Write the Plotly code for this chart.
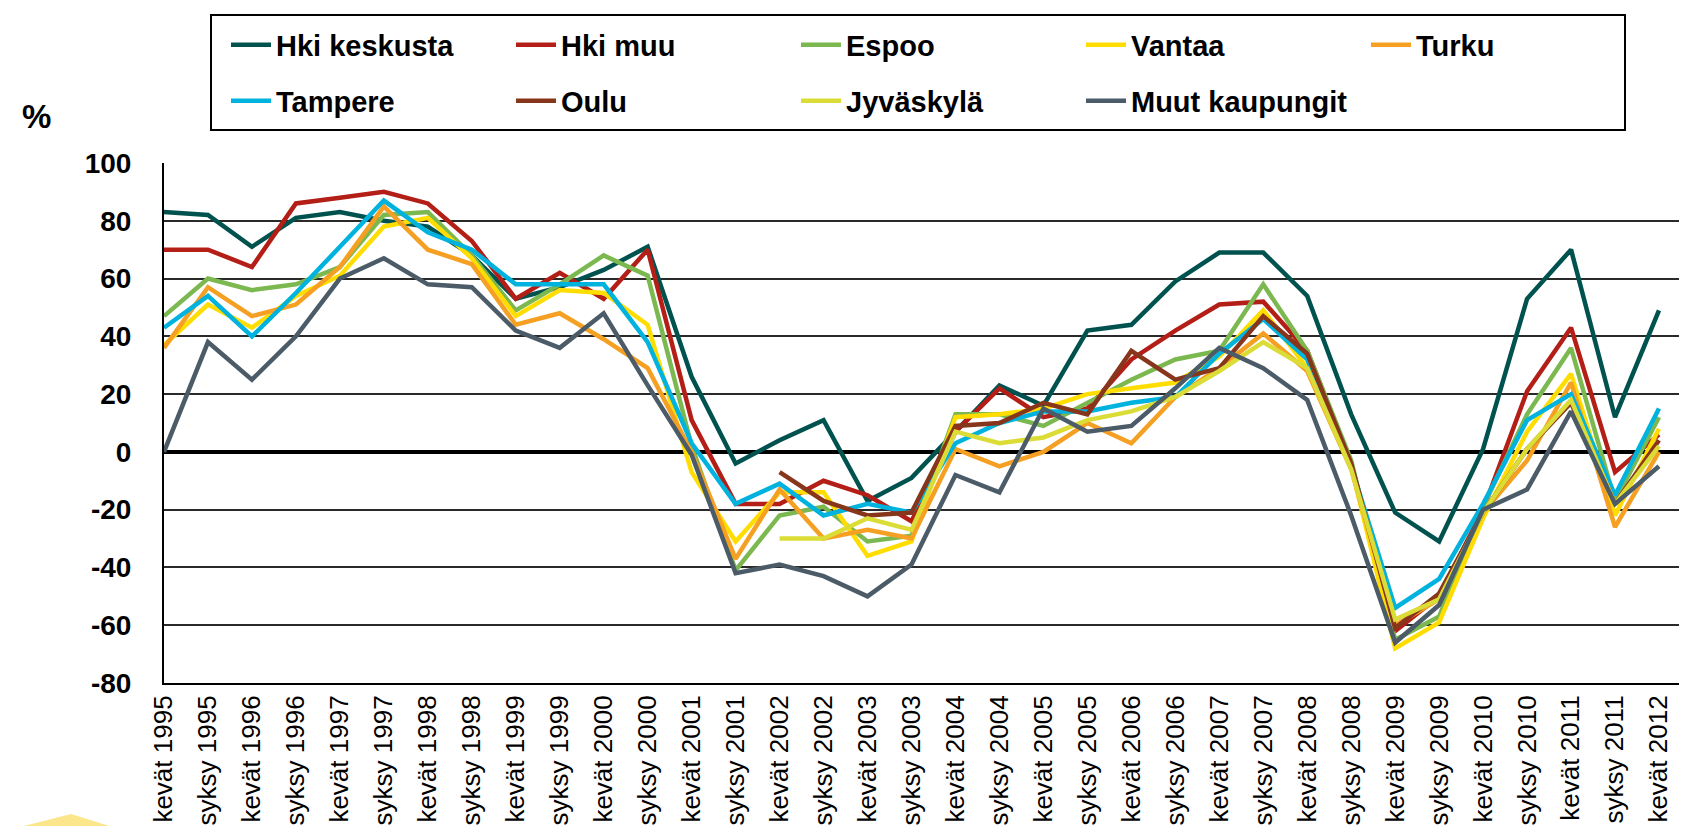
import plotly.graph_objects as go

categories = []
for yr in range(1995, 2013):
    categories.append(f"kevät {yr}")
    if yr < 2012:
        categories.append(f"syksy {yr}")

hki_keskusta = [83, 82, 71, 81, 83, 80, 78, 68, 53, 57, 63, 71, 26, -4, 4, 11, -17, -9, 7, 23, 16, 42, 44, 59, 69, 69, 54, 13, -21, -31, 1, 53, 70, 12, 49]
hki_muu = [70, 70, 64, 86, 88, 90, 86, 73, 53, 62, 53, 70, 11, -18, -18, -10, -15, -24, 7, 22, 12, 15, 32, 42, 51, 52, 35, -4, -62, -50, -20, 21, 43, -7, 6]
espoo = [47, 60, 56, 58, 64, 82, 83, 68, 49, 58, 68, 61, 2, -41, -22, -19, -31, -29, 13, 13, 9, 17, 25, 32, 35, 58, 35, -3, -65, -57, -19, 13, 36, -17, 12]
vantaa = [37, 51, 43, 54, 61, 78, 81, 67, 47, 56, 55, 44, -7, -31, -14, -14, -36, -31, 12, 13, 15, 20, 22, 24, 33, 49, 29, -5, -68, -59, -23, 7, 27, -22, 8]
turku = [36, 57, 47, 51, 64, 85, 70, 65, 44, 48, 39, 29, 0, -37, -13, -30, -27, -30, 1, -5, 0, 10, 3, 19, 29, 41, 28, -6, -60, -51, -21, -3, 24, -26, 0]
tampere = [43, 54, 40, 55, 71, 87, 76, 70, 58, 58, 58, 38, 3, -18, -11, -22, -18, -21, 3, 10, 14, 14, 17, 19, 34, 46, 32, -5, -54, -44, -18, 11, 20, -15, 15]
oulu = [None] * 14 + [-7, -17, -22, -21, 9, 10, 17, 13, 35, 25, 29, 47, 34, -4, -61, -49, -21, 1, 17, -18, 4]
jyvaskyla = [None] * 14 + [-30, -30, -23, -27, 7, 3, 5, 11, 14, 19, 28, 38, 29, -6, -58, -51, -21, 1, 18, -18, 2]
muut = [0, 38, 25, 40, 60, 67, 58, 57, 42, 36, 48, 23, -1, -42, -39, -43, -50, -39, -8, -14, 15, 7, 9, 22, 36, 29, 18, -22, -66, -53, -20, -13, 14, -18, -5]

series_names = ["Hki keskusta", "Hki muu", "Espoo", "Vantaa", "Turku",
                "Tampere", "Oulu", "Jyväskylä", "Muut kaupungit"]
series_values = [hki_keskusta, hki_muu, espoo, vantaa, turku,
                 tampere, oulu, jyvaskyla, muut]
series_colors = ["#00524F", "#B31E17", "#7CB850", "#FFDD00", "#F5A023",
                 "#00B2DE", "#87351B", "#DCDC36", "#4B5B67"]
legend_ids = ["legend"] * 5 + ["legend2"] * 4

y_tickvals = [-80, -60, -40, -20, 0, 20, 40, 60, 80, 100]
y_ticktext = ["-80", "-60", "-40", "-20", "0", "20", "40", "60", "80", "100"]

W, H = 1687, 826
L, R, T, B = 156, 0, 155, 151
pw = W - L - R
ph = H - T - B
step = 43.97


def px_x(px):
    return (px - L) / pw


def px_y(py):
    return (H - B - py) / ph


FONT = "Arial, Liberation Sans, sans-serif"

fig = go.Figure()
for name, vals, col, lg in zip(series_names, series_values, series_colors, legend_ids):
    fig.add_trace(go.Scatter(
        x=categories, y=vals, name=name, mode="lines",
        line=dict(color=col, width=4.5), legend=lg, connectgaps=False,
    ))

legend_common = dict(
    orientation="h", xanchor="left", yanchor="middle",
    bgcolor="rgba(0,0,0,0)", borderwidth=0,
    font=dict(family=FONT, size=29, color="black", weight="bold"),
    entrywidthmode="pixels", entrywidth=230, itemwidth=40,
    traceorder="normal",
)

fig.update_layout(
    width=W, height=H, autosize=False,
    margin=dict(l=L, r=R, t=T, b=B, pad=0),
    plot_bgcolor="white", paper_bgcolor="white",
    font=dict(family=FONT, color="black"),
    showlegend=True,
    legend=dict(x=px_x(218), y=px_y(37), **legend_common),
    legend2=dict(x=px_x(218), y=px_y(93), **legend_common),
    xaxis=dict(
        type="category", range=[0, pw / step],
        tickangle=-90, tickfont=dict(family=FONT, size=26, color="black"),
        showgrid=False, ticks="", showline=True, linecolor="black", linewidth=2,
        zeroline=False,
    ),
    yaxis=dict(
        range=[-80, 100], tickvals=y_tickvals, ticktext=y_ticktext,
        tickfont=dict(family=FONT, size=28, color="black", weight="bold"),
        showgrid=True, gridcolor="#2a2a2a", gridwidth=1.5,
        zeroline=True, zerolinecolor="black", zerolinewidth=4,
        showline=True, linecolor="black", linewidth=2, ticks="",
        ticklabelstandoff=25,
    ),
    annotations=[dict(
        text="%", x=px_x(28), y=px_y(108), xref="paper", yref="paper",
        xanchor="center", yanchor="middle",
        showarrow=False, font=dict(family=FONT, size=33, color="black", weight="bold"),
    )],
    shapes=[
        dict(type="rect", xref="paper", yref="paper",
             x0=px_x(203), x1=px_x(1617), y0=px_y(122), y1=px_y(7),
             line=dict(color="black", width=2), fillcolor="rgba(0,0,0,0)"),
        dict(type="path", xref="paper", yref="paper", layer="below",
             path=(f"M {px_x(0)},{px_y(822)} L {px_x(63)},{px_y(806)} "
                   f"L {px_x(127)},{px_y(826)} L {px_x(0)},{px_y(826)} Z"),
             fillcolor="#FBE68C", line=dict(width=0)),
    ],
)

fig.write_html("out.html")
